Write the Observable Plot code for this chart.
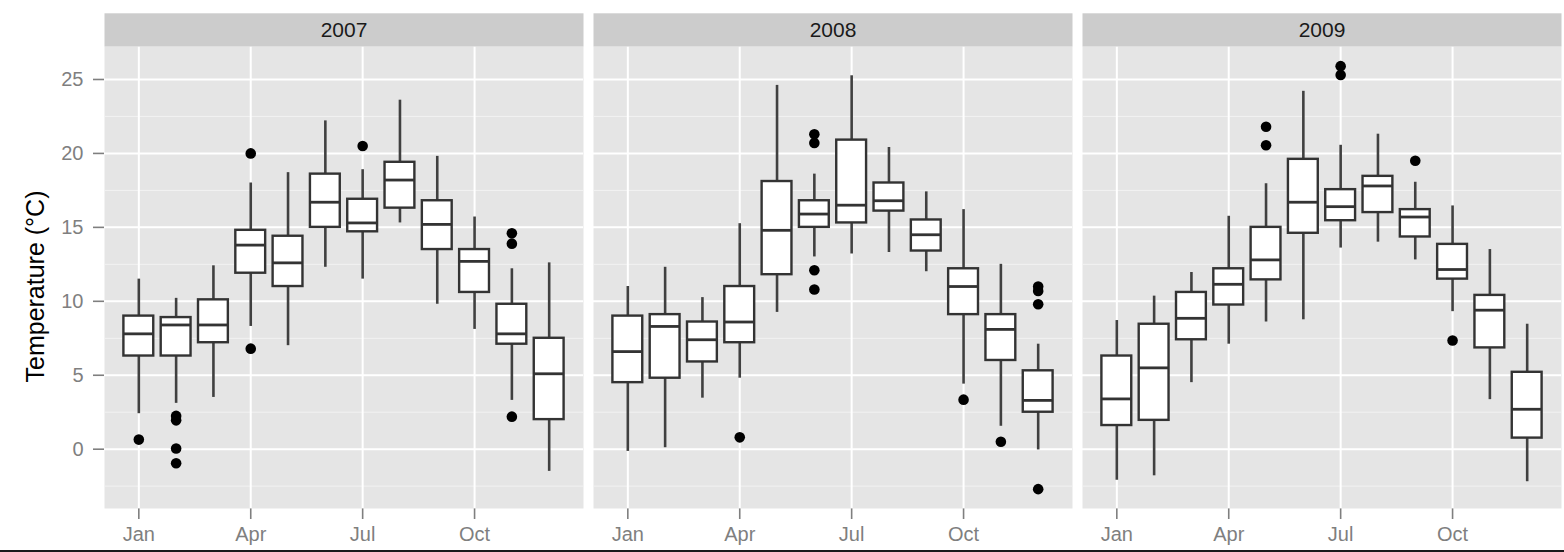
<!DOCTYPE html>
<html>
<head>
<meta charset="utf-8">
<script src="https://cdn.jsdelivr.net/npm/d3@7"></script>
<script src="https://cdn.jsdelivr.net/npm/@observablehq/plot@0.6"></script>
<style>
html, body { margin: 0; padding: 0; background: #ffffff; }
#wrap { position: relative; width: 1564px; height: 552px; overflow: hidden; }
#wrap svg { position: absolute; left: 0; top: 0; }
#edge { position: absolute; left: 0; top: 550px; width: 1564px; height: 2px; background: #1a1a1a; }
svg [aria-label$="axis tick"] { stroke-width: 1.6px; }
</style>
</head>
<body>
<div id="wrap"><div id="edge"></div></div>
<script>
// ---- data ----
const years = [2007, 2008, 2009];
const monthLabels = ["Jan", "Feb", "Mar", "Apr", "May", "Jun", "Jul", "Aug", "Sep", "Oct", "Nov", "Dec"];
const monthTicks = [1, 4, 7, 10];
const yTicks = [0, 5, 10, 15, 20, 25];
const yMinorTicks = [-2.5, 2.5, 7.5, 12.5, 17.5, 22.5];
const yTitle = "Temperature (°C)";

// one row per year (2007, 2008, 2009), one value per month Jan..Dec
const whiskerLow = [
  [2.4, 3.1, 3.5, 8.3, 7.0, 12.3, 11.5, 15.3, 9.8, 8.1, 3.3, -1.5],
  [-0.15, 0.1, 3.45, 4.8, 9.25, 13.0, 13.2, 13.3, 12.0, 4.4, 1.55, -0.05],
  [-2.1, -1.8, 4.5, 7.1, 8.6, 8.75, 13.6, 14.0, 12.8, 9.3, 3.35, -2.2]
];
const quartile1 = [
  [6.3, 6.3, 7.2, 11.9, 11.0, 15.0, 14.7, 16.3, 13.5, 10.6, 7.1, 2.0],
  [4.5, 4.8, 5.9, 7.2, 11.8, 15.0, 15.3, 16.1, 13.4, 9.1, 6.0, 2.5],
  [1.6, 1.95, 7.4, 9.75, 11.45, 14.6, 15.45, 16.0, 14.35, 11.5, 6.85, 0.75]
];
const median = [
  [7.8, 8.4, 8.4, 13.8, 12.6, 16.7, 15.3, 18.2, 15.2, 12.7, 7.8, 5.1],
  [6.6, 8.3, 7.4, 8.6, 14.8, 15.9, 16.5, 16.8, 14.5, 11.0, 8.1, 3.3],
  [3.4, 5.5, 8.85, 11.15, 12.8, 16.7, 16.4, 17.8, 15.7, 12.15, 9.4, 2.7]
];
const quartile3 = [
  [9.0, 8.9, 10.1, 14.8, 14.4, 18.6, 16.9, 19.4, 16.8, 13.5, 9.8, 7.5],
  [9.0, 9.1, 8.6, 11.0, 18.1, 16.8, 20.9, 18.0, 15.5, 12.2, 9.1, 5.3],
  [6.3, 8.45, 10.6, 12.2, 15.0, 19.6, 17.55, 18.45, 16.2, 13.85, 10.4, 5.2]
];
const whiskerHigh = [
  [11.5, 10.2, 12.4, 18.0, 18.7, 22.2, 18.9, 23.6, 19.8, 15.7, 12.2, 12.6],
  [11.0, 12.3, 10.25, 15.25, 24.6, 18.6, 25.25, 20.4, 17.4, 16.2, 12.5, 7.1],
  [8.7, 10.35, 11.95, 15.75, 17.95, 24.2, 20.55, 21.3, 18.05, 16.45, 13.5, 8.45]
];
// outliers: [year, month, value]
const outlierPoints = [
  [2007, 1, 0.65], [2007, 2, 2.25], [2007, 2, 1.95], [2007, 2, 0.05], [2007, 2, -0.95],
  [2007, 4, 20.0], [2007, 4, 6.8], [2007, 7, 20.5], [2007, 11, 14.6], [2007, 11, 13.9], [2007, 11, 2.2],
  [2008, 4, 0.8], [2008, 6, 21.3], [2008, 6, 20.7], [2008, 6, 12.1], [2008, 6, 10.8],
  [2008, 10, 3.35], [2008, 11, 0.5], [2008, 12, 11.0], [2008, 12, 10.7], [2008, 12, 9.8], [2008, 12, -2.7],
  [2009, 5, 21.8], [2009, 5, 20.55], [2009, 7, 25.9], [2009, 7, 25.3], [2009, 9, 19.5], [2009, 10, 7.35]
];

// ---- build tables for Plot ----
const boxes = years.flatMap((year, i) => monthLabels.map((m, j) => ({
  year, month: j + 1,
  lo: whiskerLow[i][j], q1: quartile1[i][j], med: median[i][j], q3: quartile3[i][j], hi: whiskerHigh[i][j]
})));
const outliers = outlierPoints.map(([year, month, value]) => ({year, month, value}));

const halfBox = 0.4;
const boxStroke = "#333333";
const whiskerStroke = "#404040";
const font = "'Liberation Sans', Arial, Helvetica, sans-serif";

const plot = Plot.plot({
  width: 1564,
  height: 552,
  marginLeft: 103,
  marginRight: 1,
  marginTop: 46,
  marginBottom: 44,
  style: {fontFamily: font, fontSize: "20px", color: "#7f7f7f", background: "transparent", overflow: "visible"},
  fx: {domain: years, axis: null, label: null, paddingInner: 10 / 490, paddingOuter: 0},
  x: {domain: [0.08, 12.92], ticks: monthTicks, tickFormat: d => monthLabels[d - 1], tickSize: 11, tickPadding: 7, label: null},
  y: {domain: [-4.01, 27.23], ticks: yTicks, tickSize: 11, tickPadding: 10, label: null},
  marks: [
    Plot.frame({fill: "#e5e5e5", stroke: "none"}),
    Plot.ruleY(yMinorTicks, {stroke: "#f2f2f2", strokeWidth: 1}),
    Plot.ruleY(yTicks, {stroke: "#ffffff", strokeWidth: 2}),
    Plot.ruleX(monthTicks, {stroke: "#ffffff", strokeWidth: 2}),
    Plot.ruleX(boxes, {fx: "year", x: "month", y1: "lo", y2: "q1", stroke: whiskerStroke, strokeWidth: 2.6}),
    Plot.ruleX(boxes, {fx: "year", x: "month", y1: "q3", y2: "hi", stroke: whiskerStroke, strokeWidth: 2.6}),
    Plot.rect(boxes, {fx: "year", x1: d => d.month - halfBox, x2: d => d.month + halfBox, y1: "q1", y2: "q3",
      fill: "#ffffff", stroke: boxStroke, strokeWidth: 2.4}),
    Plot.ruleY(boxes, {fx: "year", y: "med", x1: d => d.month - halfBox, x2: d => d.month + halfBox,
      stroke: boxStroke, strokeWidth: 2.8}),
    Plot.dot(outliers, {fx: "year", x: "month", y: "value", r: 5.3, fill: "#000000", stroke: "none"})
  ]
});

const wrap = document.getElementById("wrap");
wrap.insertBefore(plot, wrap.firstChild);

// ---- facet strips and y title, placed from the rendered panel backgrounds ----
const svg = d3.select(plot);
const svgBox = plot.getBoundingClientRect();
const panels = [];
plot.querySelectorAll("rect").forEach(node => {
  if (getComputedStyle(node).fill === "rgb(229, 229, 229)") {
    const r = node.getBoundingClientRect();
    panels.push({x: r.left - svgBox.left, y: r.top - svgBox.top, w: r.width, h: r.height});
  }
});
panels.sort((a, b) => a.x - b.x);
const stripTop = 13.3;
panels.forEach((p, i) => {
  svg.append("rect")
    .attr("x", p.x).attr("y", stripTop)
    .attr("width", p.w).attr("height", p.y - stripTop)
    .attr("fill", "#cccccc");
  svg.append("text")
    .attr("x", p.x + p.w / 2).attr("y", (stripTop + p.y) / 2)
    .attr("text-anchor", "middle").attr("dominant-baseline", "central")
    .attr("fill", "#1a1a1a").attr("font-family", font).attr("font-size", 21)
    .text(years[i]);
});
const first = panels[0];
svg.append("text")
  .attr("transform", `translate(44,${first.y + first.h / 2 + 9}) rotate(-90)`)
  .attr("text-anchor", "middle")
  .attr("fill", "#000000").attr("font-family", font).attr("font-size", 25)
  .text(yTitle);
</script>
</body>
</html>
